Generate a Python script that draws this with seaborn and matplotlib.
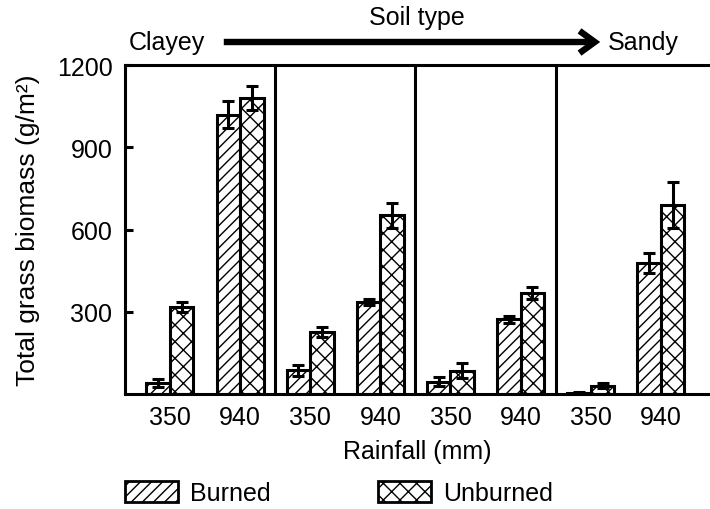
import matplotlib
matplotlib.use("Agg")
import matplotlib.pyplot as plt
import seaborn as sns
import pandas as pd
from matplotlib.patches import Patch

# ---- data ----
soil_sites = ["Site 1", "Site 2", "Site 3", "Site 4"]   # clayey -> sandy
rainfall = ["350", "940"]
treatments = ["Burned", "Unburned"]
burned_mean = [40, 1019, 87, 338, 46, 274, 4, 478]
burned_se = [15, 50, 20, 11, 16, 13, 3, 36]
unburned_mean = [318, 1080, 228, 652, 86, 370, 32, 690]
unburned_se = [17, 43, 19, 46, 28, 22, 8, 85]
yticks = [300, 600, 900, 1200]

groups = [f"{s}|{r}" for s in soil_sites for r in rainfall]
rows = []
for g, m, e in zip(groups, burned_mean, burned_se):
    rows.append(dict(group=g, treatment="Burned", biomass=m, se=e))
for g, m, e in zip(groups, unburned_mean, unburned_se):
    rows.append(dict(group=g, treatment="Unburned", biomass=m, se=e))
df = pd.DataFrame(rows)

sns.set_theme(style="ticks")
plt.rcParams["font.family"] = ["Liberation Sans", "DejaVu Sans"]
for k in ["text.color", "axes.labelcolor", "xtick.color", "ytick.color", "axes.edgecolor"]:
    plt.rcParams[k] = "black"
plt.rcParams["hatch.linewidth"] = 1.0
plt.rcParams["hatch.color"] = "black"
FS = 18
LW = 2.2

fig = plt.figure(figsize=(7.1, 5.1), dpi=100)
ax = fig.add_axes([125 / 710, 1 - 395.3 / 510, 585 / 710, 329.3 / 510])

sns.barplot(data=df, x="group", y="biomass", hue="treatment", order=groups,
            hue_order=treatments, palette={"Burned": "white", "Unburned": "white"},
            edgecolor="black", linewidth=LW, width=0.67, errorbar=None,
            legend=False, ax=ax)

hatches = {"Burned": "///", "Unburned": "xx"}
for cont, t in zip(ax.containers, treatments):
    sub = df[df.treatment == t].set_index("group").loc[groups]
    xs, ys = [], []
    for bar in cont:
        bar.set_hatch(hatches[t])
        xs.append(bar.get_x() + bar.get_width() / 2)
        ys.append(bar.get_height())
    ax.errorbar(xs, ys, yerr=sub["se"].values, fmt="none", ecolor="black",
                elinewidth=LW, capsize=4.5, capthick=LW, zorder=5)

for xv in [1.5, 3.5, 5.5]:
    ax.axvline(xv, color="black", lw=LW, zorder=6)

ax.set_xlim(-0.64, 7.70)
ax.set_ylim(0, 1200)
ax.set_yticks(yticks)
ax.set_yticklabels([str(v) for v in yticks], fontsize=FS)
ax.set_xticks(range(len(groups)))
ax.set_xticklabels([g.split("|")[1] for g in groups], fontsize=FS)
ax.tick_params(axis="x", length=0, pad=8)
ax.tick_params(axis="y", direction="in", length=6, width=LW, pad=9)
for s in ["top", "left", "bottom"]:
    ax.spines[s].set_linewidth(LW)
    ax.spines[s].set_color("black")
ax.spines["right"].set_visible(False)

ax.set_xlabel("Rainfall (mm)", fontsize=FS, va="top")
ax.xaxis.set_label_coords(0.5, -0.135)
ax.set_ylabel("Total grass biomass (g/m²)", fontsize=19)
ax.yaxis.set_label_coords(-0.145, 0.5)

# soil gradient header
yh = 1 - 43 / 510
fig.text(417 / 710, 1 - 18 / 510, "Soil type", fontsize=FS, ha="center", va="center")
fig.text(167 / 710, yh, "Clayey", fontsize=FS, ha="center", va="center")
fig.text(643 / 710, yh, "Sandy", fontsize=FS, ha="center", va="center")
fig.add_artist(matplotlib.patches.FancyArrowPatch(
    (221 / 710, yh), (603 / 710, yh), transform=fig.transFigure,
    arrowstyle="->,head_length=0.55,head_width=0.4", mutation_scale=20,
    lw=4.6, color="black", capstyle="butt", joinstyle="miter"))

handles = [Patch(facecolor="white", edgecolor="black", hatch=hatches[t], lw=2.0)
           for t in treatments]
fig.legend(handles, treatments, loc="center left",
           bbox_to_anchor=(125 / 710, 1 - 494 / 510), ncol=2, frameon=False,
           borderpad=0, borderaxespad=0, handlelength=2.1, handleheight=0.9,
           handletextpad=0.5, columnspacing=4.3, fontsize=FS)

fig.savefig("out.png", dpi=100)
